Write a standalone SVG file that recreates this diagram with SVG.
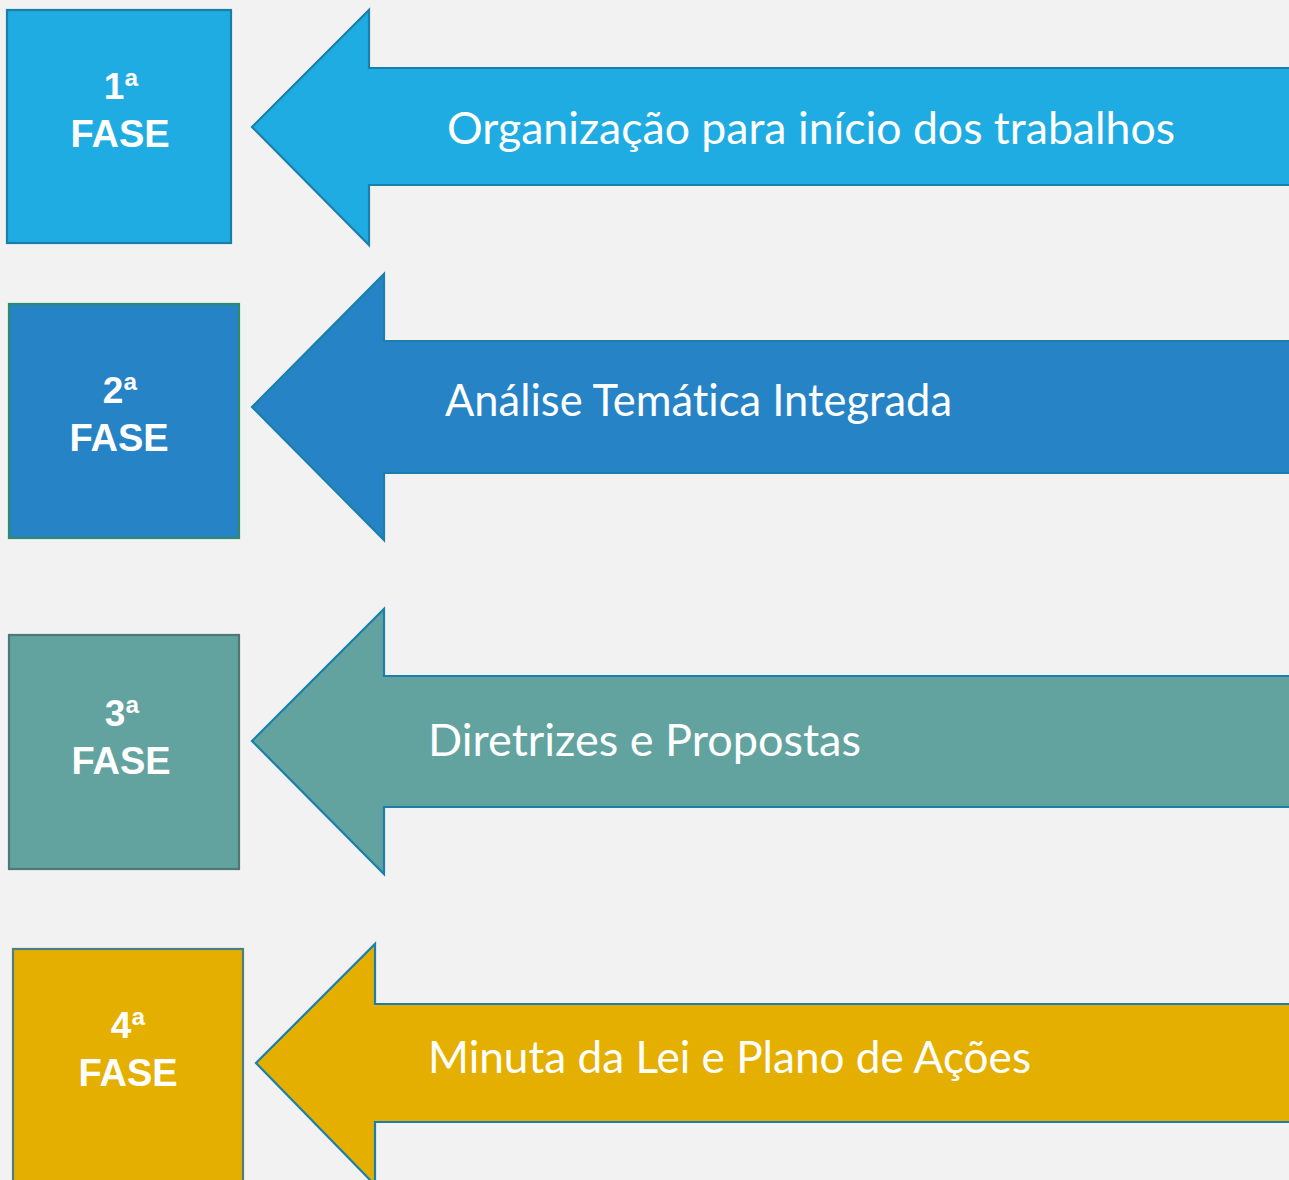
<svg xmlns="http://www.w3.org/2000/svg" width="1289" height="1180" viewBox="0 0 1289 1180">
<style>
.box{stroke-width:2.2}
.arr{stroke-width:2.2;stroke:#1b7fab}
.num{font-family:"Liberation Sans","Open Sans",sans-serif;font-weight:bold;font-size:37px;fill:#fff;text-anchor:middle}
.fase{font-family:"Liberation Sans","Open Sans",sans-serif;font-weight:bold;font-size:38px;fill:#fff;text-anchor:middle}
.lbl{font-family:Lato,"Open Sans","Liberation Sans",sans-serif;font-size:44px;fill:#fff;font-variant-ligatures:none}
</style>
<rect x="0" y="0" width="1289" height="1180" fill="#F2F2F2"/>
<g id="connectors">
<polygon class="arr" fill="#1FACE3" points="1295,68 369,68 369,10 252,127 369,245 369,185 1295,185"/>
<polygon class="arr" fill="#2683C6" points="1295,341 384,341 384,274 252,407 384,540 384,473 1295,473"/>
<polygon class="arr" fill="#62A39F" points="1295,676 384,676 384,609 252,741 384,874 384,807 1295,807"/>
<polygon class="arr" fill="#E5AF00" points="1295,1004 375,1004 375,944 256,1063 375,1185 375,1122 1295,1122"/>
<text class="lbl" x="447" y="144" textLength="728" lengthAdjust="spacingAndGlyphs">Organização para início dos trabalhos</text>
<text class="lbl" x="445" y="416" textLength="507" lengthAdjust="spacingAndGlyphs">Análise Temática Integrada</text>
<text class="lbl" x="428" y="756" textLength="433" lengthAdjust="spacingAndGlyphs">Diretrizes e Propostas</text>
<text class="lbl" x="428" y="1073" textLength="603" lengthAdjust="spacingAndGlyphs">Minuta da Lei e Plano de Ações</text>
</g>
<g id="fase1">
<rect class="box" x="7" y="10" width="224" height="233" fill="#1FACE3" stroke="#1a7fa6"/>
<text class="num" x="121" y="99">1ª</text>
<text class="fase" x="120" y="147">FASE</text>
</g>
<g id="fase2">
<rect class="box" x="9" y="304" width="230" height="234" fill="#2683C6" stroke="#2e8b6e"/>
<text class="num" x="120" y="403">2ª</text>
<text class="fase" x="119" y="451">FASE</text>
</g>
<g id="fase3">
<rect class="box" x="9" y="635" width="230" height="234" fill="#62A39F" stroke="#4e7873"/>
<text class="num" x="122" y="726">3ª</text>
<text class="fase" x="121" y="774">FASE</text>
</g>
<g id="fase4">
<rect class="box" x="13" y="949" width="230" height="240" fill="#E5AF00" stroke="#4a7f8a"/>
<text class="num" x="128" y="1038">4ª</text>
<text class="fase" x="128" y="1086">FASE</text>
</g>
</svg>
